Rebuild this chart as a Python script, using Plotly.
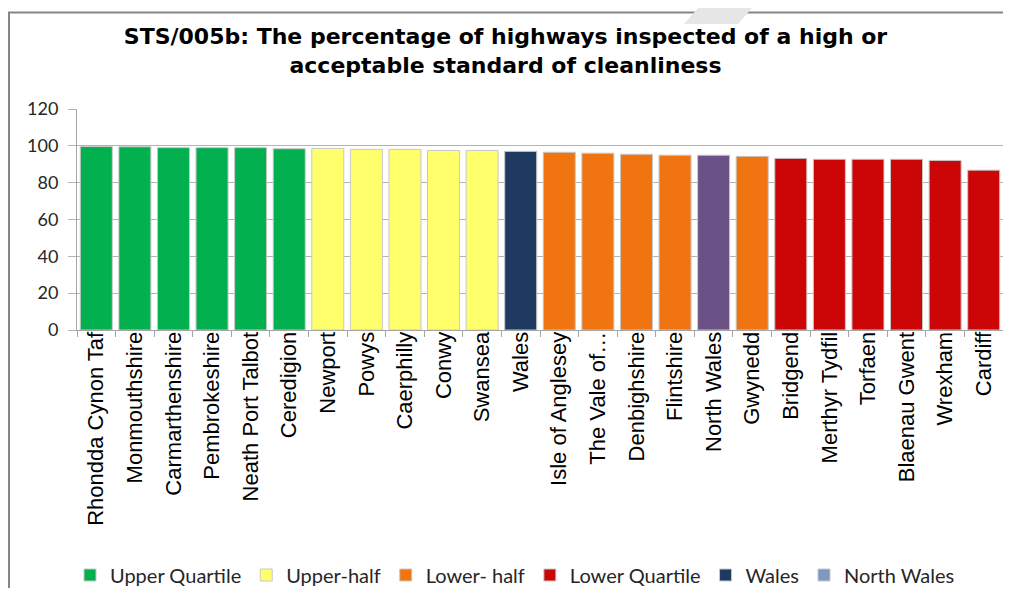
import plotly.graph_objects as go

# data
categories = [
    "Rhondda Cynon Taf", "Monmouthshire", "Carmarthenshire", "Pembrokeshire",
    "Neath Port Talbot", "Ceredigion", "Newport", "Powys", "Caerphilly", "Conwy",
    "Swansea", "Wales", "Isle of Anglesey", "The Vale of…", "Denbighshire",
    "Flintshire", "North Wales", "Gwynedd", "Bridgend", "Merthyr Tydfil",
    "Torfaen", "Blaenau Gwent", "Wrexham", "Cardiff",
]
values = [
    99.6, 99.5, 99.0, 99.0, 99.0, 98.4, 98.6, 98.1, 98.1, 97.5,
    97.5, 97.0, 96.5, 96.0, 95.4, 94.9, 94.9, 94.3, 93.2, 92.7,
    92.7, 92.7, 92.1, 86.8,
]
groups = [
    "Upper Quartile", "Upper Quartile", "Upper Quartile", "Upper Quartile",
    "Upper Quartile", "Upper Quartile", "Upper-half", "Upper-half", "Upper-half",
    "Upper-half", "Upper-half", "Wales", "Lower- half", "Lower- half",
    "Lower- half", "Lower- half", "North Wales", "Lower- half", "Lower Quartile",
    "Lower Quartile", "Lower Quartile", "Lower Quartile", "Lower Quartile",
    "Lower Quartile",
]
legend_order = ["Upper Quartile", "Upper-half", "Lower- half", "Lower Quartile", "Wales", "North Wales"]

bar_colors = {
    "Upper Quartile": "#03b04f",
    "Upper-half": "#ffff6b",
    "Lower- half": "#f07511",
    "Lower Quartile": "#cc0606",
    "Wales": "#1f3a61",
    "North Wales": "#6a5186",
}
# the legend swatch for North Wales differs from its bar in the original
legend_colors = dict(bar_colors, **{"North Wales": "#8097c2"})

# the page has an 8px body margin, so the figure is drawn 8px in from the corner
OFF = 8
W, H = 995, 580
L, R, T, B = 69, 0, 101, 258
PW, PH = W - L - R, H - T - B


def px_x(x):
    # screen x -> paper x
    return (x - OFF - L) / PW


def px_y(y):
    # screen y -> paper y
    return (H - B - (y - OFF)) / PH


fig = go.Figure()

for g in legend_order:
    xs = [c for c, gg in zip(categories, groups) if gg == g]
    ys = [v for v, gg in zip(values, groups) if gg == g]
    same = legend_colors[g] == bar_colors[g]
    fig.add_trace(go.Bar(
        x=xs, y=ys, name=g,
        marker=dict(color=bar_colors[g], line=dict(color="#c8c8c8", width=1)),
        showlegend=same, legendrank=legend_order.index(g),
    ))
    if not same:
        # legend-only entry
        fig.add_trace(go.Bar(
            x=[None], y=[None], name=g,
            marker=dict(color=legend_colors[g], line=dict(color="#c8c8c8", width=1)),
            legendrank=legend_order.index(g),
        ))

fig.update_layout(
    width=W, height=H,
    margin=dict(l=L, r=R, t=T, b=B),
    paper_bgcolor="white", plot_bgcolor="white",
    barmode="relative", bargap=0.17,
    title=dict(
        text="STS/005b: The percentage of highways inspected of a high or<br>acceptable standard of cleanliness",
        x=0.5, xanchor="center", xref="container",
        y=1 - 36 / H, yanchor="top", yref="container",
        font=dict(family="DejaVu Sans", size=22, color="black", weight="bold"),
    ),
    legend=dict(
        orientation="h", xref="container", yref="container",
        x=(70 - OFF) / W, xanchor="left", y=1 - (575 - OFF) / H, yanchor="middle",
        font=dict(family="Lato", size=20, color="#262626"),
        itemwidth=30, traceorder="normal",
    ),
    font=dict(family="Liberation Sans"),
)

fig.update_xaxes(
    type="category", categoryorder="array", categoryarray=categories,
    tickangle=-90, tickfont=dict(family="Liberation Sans", size=22, color="black"),
    showline=True, linecolor="#a6a6a6", linewidth=1,
    ticks="outside", tickson="boundaries", ticklen=6, tickcolor="#a6a6a6",
    ticklabelstandoff=-8,
    showgrid=False, automargin=False,
)
fig.update_yaxes(
    range=[0, 120], dtick=20,
    tickfont=dict(family="Lato", size=18, color="#262626"),
    showgrid=True, gridcolor="#b3b3b3", gridwidth=1,
    showline=True, linecolor="#a6a6a6", linewidth=1,
    ticks="outside", ticklen=8, tickcolor="#b3b3b3",
    ticklabelstandoff=6,
    zeroline=False, automargin=False,
)

# outer chart frame and the faint watermark stroke at the top
fig.add_shape(type="rect", xref="paper", yref="paper",
              x0=px_x(9), x1=px_x(1030), y0=px_y(620), y1=px_y(12.5),
              line=dict(color="#868686", width=2), layer="below")
fig.add_shape(type="path", xref="paper", yref="paper",
              path="M {} {} L {} {} L {} {} L {} {} Z".format(
                  px_x(698), px_y(OFF), px_x(752), px_y(OFF),
                  px_x(738), px_y(24), px_x(684), px_y(24)),
              fillcolor="#e6e6e6", line=dict(width=0), layer="below")

fig.write_html("out.html")
